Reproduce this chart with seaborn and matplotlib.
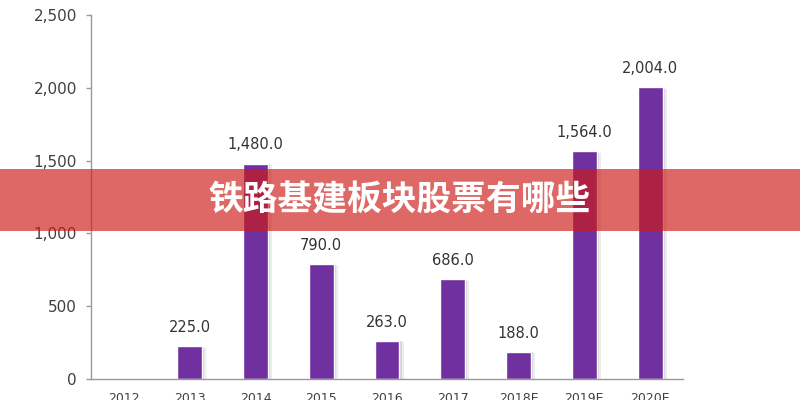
import matplotlib
matplotlib.use("Agg")
import matplotlib.pyplot as plt
import matplotlib.patheffects as pe
import numpy as np
import pandas as pd
import seaborn as sns

years = ["2012", "2013", "2014", "2015", "2016", "2017", "2018E", "2019E", "2020E"]
values = [0, 225.0, 1480.0, 790.0, 263.0, 686.0, 188.0, 1564.0, 2004.0]
y_ticks = [0, 500, 1000, 1500, 2000, 2500]
banner_text = "铁路基建板块股票有哪些"

sns.set_theme(style="white")
plt.rcParams["font.family"] = ["DejaVu Sans", "Noto Sans CJK SC"]

df = pd.DataFrame({"year": years, "value": values})

fig = plt.figure(figsize=(8, 4), dpi=100)
ax = fig.add_axes([0.11375, 0.0525, 0.74, 0.91])

sns.barplot(data=df, x="year", y="value", color="#7030a0", saturation=1,
            width=0.38, ax=ax)

# soft shadow on the right of each bar
for patch in ax.patches:
    patch.set_path_effects([
        pe.SimplePatchShadow(offset=(3, -1), shadow_rgbFace="#9a9a9a", alpha=0.18),
        pe.SimplePatchShadow(offset=(1.5, -0.5), shadow_rgbFace="#9a9a9a", alpha=0.3),
        pe.Normal(),
    ])

# value labels (skip empty 2012)
for i, v in enumerate(values):
    if v > 0:
        ax.annotate(f"{v:,.1f}", (i, v), xytext=(0, 8), textcoords="offset points",
                    ha="center", va="bottom", fontsize=10.5, color="#333333")

ax.set_ylim(0, 2500)
ax.set_xlim(-0.5, len(years) - 0.5)
ax.set_yticks(y_ticks)
ax.set_yticklabels([f"{t:,}" for t in y_ticks], fontsize=11, color="#404040")
ax.set_xticks(np.arange(-0.5, len(years)), minor=True)
ax.tick_params(axis="x", which="major", length=0, pad=9, labelsize=9, labelcolor="#404040")
ax.tick_params(axis="x", which="minor", length=3, width=1, color="#999999", direction="out")
ax.tick_params(axis="y", length=3.6, width=1, color="#999999", direction="out", pad=6.5, left=True)
ax.set_xlabel("")
ax.set_ylabel("")

sns.despine(ax=ax)
for side in ("left", "bottom"):
    ax.spines[side].set_color("#999999")
    ax.spines[side].set_linewidth(1)

# red banner across the middle
fig.patches.append(plt.Rectangle((0, 0.4225), 1, 0.155, transform=fig.transFigure,
                                 facecolor="#cd1a15", alpha=0.66, edgecolor="none", zorder=5))
fig.text(0.5, 0.5, banner_text, ha="center", va="center", fontsize=25,
         fontweight="bold", color="white", family=["Noto Sans CJK SC", "DejaVu Sans"], zorder=6)

fig.savefig("out.png", dpi=100)
plt.close(fig)
